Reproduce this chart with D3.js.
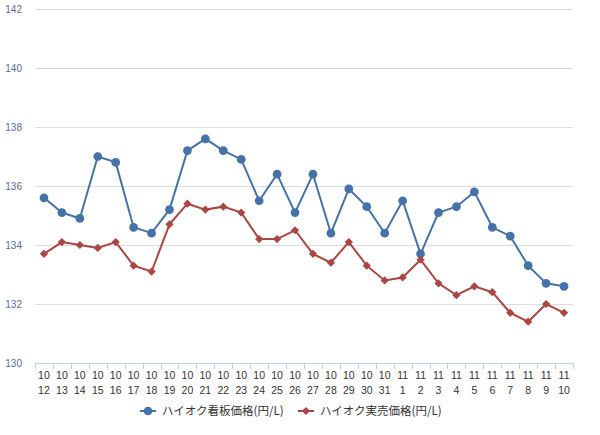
<!DOCTYPE html>
<html>
<head>
<meta charset="utf-8">
<script src="https://cdn.jsdelivr.net/npm/d3@7"></script>
<style>
  body { margin: 0; background: #fff; }
  text { font-family: "Liberation Sans", Arial, sans-serif; }
</style>
</head>
<body>
<div class="canvas"></div>
<script>
// categories (month / day)
const months = ['10','10','10','10','10','10','10','10','10','10','10','10','10','10','10','10','10','10','10','10',
                '11','11','11','11','11','11','11','11','11','11'];
const days = ['12','13','14','15','16','17','18','19','20','21','22','23','24','25','26','27','28','29','30','31',
              '1','2','3','4','5','6','7','8','9','10'];

// series values
const signPrice = [135.6,135.1,134.9,137.0,136.8,134.6,134.4,135.2,137.2,137.6,137.2,136.9,135.5,136.4,135.1,
                   136.4,134.4,135.9,135.3,134.4,135.5,133.7,135.1,135.3,135.8,134.6,134.3,133.3,132.7,132.6];
const realPrice = [133.7,134.1,134.0,133.9,134.1,133.3,133.1,134.7,135.4,135.2,135.3,135.1,134.2,134.2,134.5,
                   133.7,133.4,134.1,133.3,132.8,132.9,133.5,132.7,132.3,132.6,132.4,131.7,131.4,132.0,131.7];

const seriesNames = ['ハイオク看板価格(円/L)', 'ハイオク実売価格(円/L)'];
const yTicks = [130,132,134,136,138,140,142];

const dims = { width: 600, height: 435 };
const plot = { left: 35, right: 573, top: 9, bottom: 363 };

const svg = d3.select('.canvas')
  .append('svg')
  .attr('width', dims.width)
  .attr('height', dims.height);

const keys = days.map((d, i) => i);

const x = d3.scaleBand()
  .domain(keys)
  .range([plot.left, plot.right]);

const y = d3.scaleLinear()
  .domain([130, 142])
  .range([plot.bottom, plot.top]);

// gridlines
svg.append('g')
  .selectAll('line')
  .data(yTicks.slice(1))
  .enter().append('line')
  .attr('x1', plot.left)
  .attr('x2', plot.right)
  .attr('y1', d => Math.round(y(d)) + 0.5)
  .attr('y2', d => Math.round(y(d)) + 0.5)
  .attr('stroke', '#dcdcdc')
  .attr('stroke-width', 1);

// y labels
svg.append('g')
  .selectAll('text')
  .data(yTicks)
  .enter().append('text')
  .attr('x', 22)
  .attr('y', d => y(d) + 4)
  .attr('text-anchor', 'end')
  .attr('fill', '#5b6c8f')
  .attr('font-size', 10)
  .text(d => d);

// x axis line + ticks
const xAxis = svg.append('g');
xAxis.append('line')
  .attr('x1', plot.left)
  .attr('x2', plot.right)
  .attr('y1', plot.bottom + 0.5)
  .attr('y2', plot.bottom + 0.5)
  .attr('stroke', '#c0d0e0');

xAxis.selectAll('line.tick')
  .data(keys.concat([keys.length]))
  .enter().append('line')
  .attr('class', 'tick')
  .attr('x1', d => Math.round(d < keys.length ? x(d) : plot.right) + 0.5)
  .attr('x2', d => Math.round(d < keys.length ? x(d) : plot.right) + 0.5)
  .attr('y1', plot.bottom)
  .attr('y2', plot.bottom + 6)
  .attr('stroke', '#c0d0e0');

const labels = xAxis.selectAll('text')
  .data(keys)
  .enter().append('text')
  .attr('text-anchor', 'middle')
  .attr('fill', '#333')
  .attr('font-size', 10.5);

labels.append('tspan')
  .attr('x', d => x(d) + x.bandwidth() / 2)
  .attr('y', 379)
  .text(d => months[d]);
labels.append('tspan')
  .attr('x', d => x(d) + x.bandwidth() / 2)
  .attr('y', 394)
  .text(d => days[d]);

// lines
const cx = i => x(i) + x.bandwidth() / 2;
const line = d3.line()
  .x((d, i) => cx(i))
  .y(d => y(d));

// diamond = square turned 45 degrees
const series = [
  { name: seriesNames[0], values: signPrice, color: '#4572a7', symbol: d3.symbolCircle, size: 60, rot: 0 },
  { name: seriesNames[1], values: realPrice, color: '#aa4643', symbol: d3.symbolSquare, size: 34, rot: 45 }
];

series.forEach(s => {
  svg.append('path')
    .attr('d', line(s.values))
    .attr('fill', 'none')
    .attr('stroke', s.color)
    .attr('stroke-width', 2);

  svg.append('g')
    .selectAll('path')
    .data(s.values)
    .enter().append('path')
    .attr('transform', (d, i) => `translate(${cx(i)}, ${y(d)}) rotate(${s.rot})`)
    .attr('d', d3.symbol().type(s.symbol).size(s.size))
    .attr('fill', s.color);
});

// legend
const legendX = [140, 298];
const legend = svg.append('g')
  .selectAll('g')
  .data(series)
  .enter().append('g')
  .attr('transform', (d, i) => `translate(${legendX[i]}, 411)`);

legend.append('line')
  .attr('x1', 0).attr('x2', 16)
  .attr('stroke', d => d.color)
  .attr('stroke-width', 2);
legend.append('path')
  .attr('transform', d => `translate(8,0) rotate(${d.rot})`)
  .attr('d', d => d3.symbol().type(d.symbol).size(d.size)())
  .attr('fill', d => d.color);
legend.append('text')
  .attr('x', 22)
  .attr('y', 4)
  .attr('fill', '#333')
  .attr('font-size', 11.5)
  .style('font-family', '"Noto Sans CJK JP", sans-serif')
  .text(d => d.name);
</script>
</body>
</html>
